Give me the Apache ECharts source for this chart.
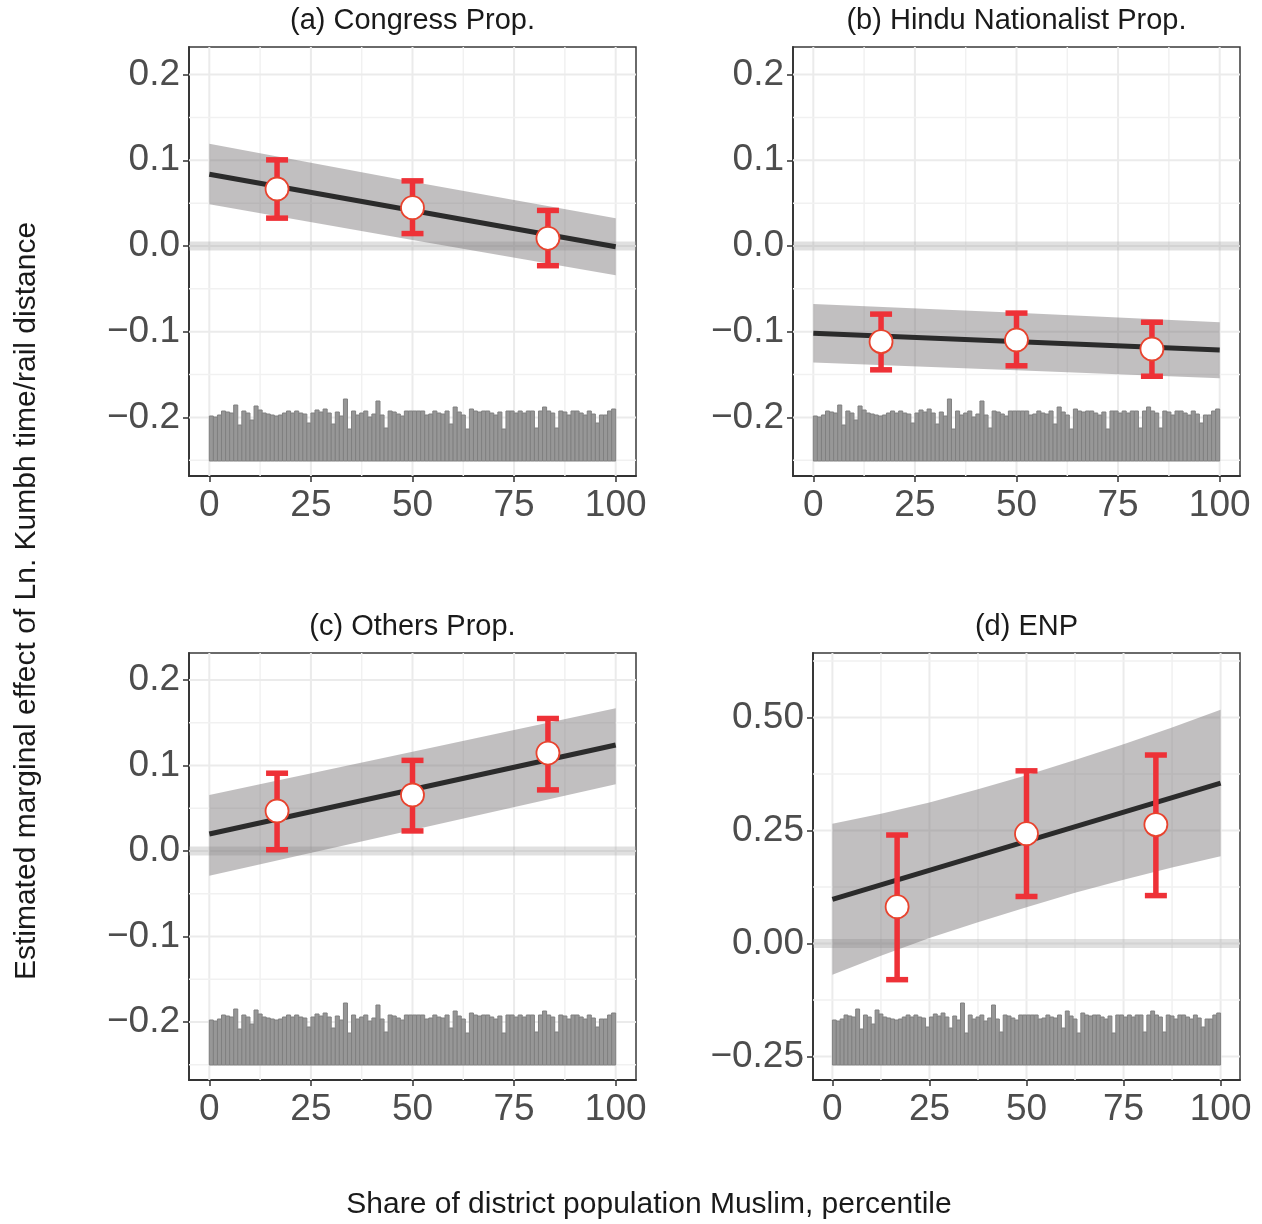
<!DOCTYPE html>
<html><head><meta charset="utf-8">
<script src="https://cdn.jsdelivr.net/npm/echarts@6/dist/echarts.min.js"></script>
<style>html,body{margin:0;padding:0;background:#fff}#c{width:1262px;height:1224px}</style>
</head><body><div id="c"></div>
<script>
// ---- axis ticks ----
const pctTicks = [0, 25, 50, 75, 100];
const pctMinor = [12.5, 37.5, 62.5, 87.5];
const propTicks = [-0.2, -0.1, 0, 0.1, 0.2];
const propMinor = [-0.25, -0.15, -0.05, 0.05, 0.15];
const enpTicks = [-0.25, 0, 0.25, 0.5];
const enpMinor = [-0.125, 0.125, 0.375, 0.625];

// ---- x positions ----
const pointX = [16.67, 50, 83.33];
const lineX = [0, 100];
const bandX3 = [0, 50, 100];
const bandX9 = [0, 12.5, 25, 37.5, 50, 62.5, 75, 87.5, 100];

// ---- (a) Congress Prop. ----
const congressLine = [0.0837, -0.0008];
const congressBandHi = [0.1194, 0.075, 0.0323];
const congressBandLo = [0.0487, 0.007, -0.0342];
const congressEst = [0.0665, 0.0447, 0.009];
const congressHi = [0.1005, 0.0760, 0.0415];
const congressLo = [0.0325, 0.0145, -0.0230];

// ---- (b) Hindu Nationalist Prop. ----
const hinduLine = [-0.1019, -0.1214];
const hinduBandHi = [-0.0677, -0.078, -0.089];
const hinduBandLo = [-0.136, -0.145, -0.1544];
const hinduEst = [-0.1116, -0.1097, -0.1202];
const hinduHi = [-0.0795, -0.0783, -0.0890];
const hinduLo = [-0.1445, -0.1398, -0.1520];

// ---- (c) Others Prop. ----
const othersLine = [0.0199, 0.124];
const othersBandHi = [0.0655, 0.116, 0.167];
const othersBandLo = [-0.029, 0.0245, 0.078];
const othersEst = [0.0468, 0.0655, 0.1146];
const othersHi = [0.0910, 0.1060, 0.1550];
const othersLo = [0.0015, 0.0235, 0.0715];

// ---- (d) ENP ----
const enpLine = [0.0978, 0.355];
const enpBandHi = [0.265, 0.287, 0.312, 0.341, 0.372, 0.406, 0.441, 0.478, 0.517];
const enpBandLo = [-0.069, -0.027, 0.012, 0.047, 0.080, 0.112, 0.141, 0.168, 0.193];
const enpEst = [0.0814, 0.243, 0.263];
const enpHi = [0.240, 0.382, 0.417];
const enpLo = [-0.080, 0.104, 0.106];

// ---- histogram of percentiles (100 one-unit bins) ----
const histCounts = [
  45, 44, 46, 50, 49, 48, 56, 36, 50, 48, 41, 55, 51, 48, 47, 46, 45, 46, 48, 50, 48, 50, 48, 47, 38,
  48, 51, 49, 52, 48, 37, 49, 45, 62, 32, 50, 46, 48, 50, 44, 47, 60, 46, 33, 50, 49, 47, 45, 50, 50,
  50, 50, 50, 46, 47, 50, 48, 47, 50, 37, 54, 49, 46, 32, 52, 50, 49, 50, 50, 48, 46, 49, 32, 50, 50,
  48, 50, 48, 50, 50, 33, 50, 54, 50, 48, 33, 50, 49, 46, 50, 50, 48, 46, 50, 47, 38, 46, 46, 50, 52
];

const FONT = "'Liberation Sans', Arial, Helvetica, sans-serif";
const panels = [
  {title: '(a) Congress Prop.', grid: {left: 189, top: 47, width: 447, height: 429}, yMin: -0.2684, yMax: 0.2322,
   ticks: propTicks, minor: propMinor, dec: 1, histMax: 414,
   line: congressLine, bandX: bandX3, bHi: congressBandHi, bLo: congressBandLo, est: congressEst, eHi: congressHi, eLo: congressLo},
  {title: '(b) Hindu Nationalist Prop.', grid: {left: 793, top: 47, width: 447, height: 429}, yMin: -0.2684, yMax: 0.2322,
   ticks: propTicks, minor: propMinor, dec: 1, histMax: 414,
   line: hinduLine, bandX: bandX3, bHi: hinduBandHi, bLo: hinduBandLo, est: hinduEst, eHi: hinduHi, eLo: hinduLo},
  {title: '(c) Others Prop.', grid: {left: 189, top: 653, width: 447, height: 427}, yMin: -0.2678, yMax: 0.2316,
   ticks: propTicks, minor: propMinor, dec: 1, histMax: 412,
   line: othersLine, bandX: bandX3, bHi: othersBandHi, bLo: othersBandLo, est: othersEst, eHi: othersHi, eLo: othersLo},
  {title: '(d) ENP', grid: {left: 813, top: 653, width: 427, height: 427}, yMin: -0.302, yMax: 0.6427,
   ticks: enpTicks, minor: enpMinor, dec: 2, histMax: 412,
   line: enpLine, bandX: bandX9, bHi: enpBandHi, bLo: enpBandLo, est: enpEst, eHi: enpHi, eLo: enpLo}
];

const grids = [], xAxes = [], yAxes = [], series = [], graphics = [];
const hiddenY = [];

function gridRender(params, api) {
  const cs = params.coordSys;
  const kind = api.value(2);
  let shape;
  if (kind < 2) {
    const px = api.coord([api.value(0), 0])[0];
    shape = {x1: px, y1: cs.y, x2: px, y2: cs.y + cs.height};
  } else {
    const py = api.coord([0, api.value(1)])[1];
    shape = {x1: cs.x, y1: py, x2: cs.x + cs.width, y2: py};
  }
  const major = kind % 2 === 0;
  return {type: 'line', shape, style: {stroke: major ? '#ebebeb' : '#f1f1f1', lineWidth: major ? 2 : 1.5}};
}
function histRender(params, api) {
  const i = api.value(0), c = api.value(1);
  const p0 = api.coord([i, 0]), p1 = api.coord([i + 1, c]);
  return {type: 'rect', shape: {x: p0[0], y: p1[1], width: p1[0] - p0[0], height: p0[1] - p1[1]},
          style: {fill: '#979797', stroke: '#808080', lineWidth: 1}};
}
function makeBand(xs, hi, lo) {
  return function (params, api) {
    const pts = [];
    for (let i = 0; i < xs.length; i++) pts.push(api.coord([xs[i], hi[i]]));
    for (let i = xs.length - 1; i >= 0; i--) pts.push(api.coord([xs[i], lo[i]]));
    return {type: 'polygon', shape: {points: pts}, style: {fill: 'rgba(118,114,116,0.45)'}};
  };
}
function errRender(params, api) {
  const x = api.value(0);
  const pl = api.coord([x, api.value(1)]);
  const ph = api.coord([x, api.value(2)]);
  const hw = 11, st = {stroke: '#ee3137', lineWidth: 5.5};
  return {type: 'group', children: [
    {type: 'line', shape: {x1: pl[0], y1: pl[1], x2: ph[0], y2: ph[1]}, style: st},
    {type: 'line', shape: {x1: ph[0] - hw, y1: ph[1], x2: ph[0] + hw, y2: ph[1]}, style: st},
    {type: 'line', shape: {x1: pl[0] - hw, y1: pl[1], x2: pl[0] + hw, y2: pl[1]}, style: st}
  ]};
}

panels.forEach((p, k) => {
  grids.push(Object.assign({show: true, borderColor: '#3a3a3a', borderWidth: 1.5, backgroundColor: '#fff', containLabel: false}, p.grid));
  xAxes.push({gridIndex: k, type: 'value', min: -5, max: 105,
    axisLine: {show: true, onZero: false, lineStyle: {color: '#333', width: 1.8}},
    axisTick: {show: true, customValues: pctTicks, length: 6, lineStyle: {color: '#333', width: 1.5}},
    axisLabel: {customValues: pctTicks, fontSize: 37, color: '#4d4d4d', margin: 11, fontFamily: FONT},
    splitLine: {show: false}});
  const dec = p.dec;
  yAxes.push({gridIndex: k, type: 'value', min: p.yMin, max: p.yMax,
    axisLine: {show: true, onZero: false, lineStyle: {color: '#333', width: 1.8}},
    axisTick: {show: true, customValues: p.ticks, length: 6, lineStyle: {color: '#333', width: 1.5}},
    axisLabel: {customValues: p.ticks, fontSize: 37, color: '#4d4d4d', margin: 9, fontFamily: FONT,
      formatter: v => Number(v).toFixed(dec).replace('-', '\u2212').replace(/^\u22120\.0+$/, m => m.slice(1))},
    splitLine: {show: false}});
  hiddenY.push({gridIndex: k, type: 'value', min: -15, max: p.histMax, show: false});

  const gl = [];
  pctTicks.forEach(v => gl.push([v, 0, 0]));
  pctMinor.forEach(v => gl.push([v, 0, 1]));
  p.ticks.forEach(v => gl.push([0, v, 2]));
  p.minor.forEach(v => gl.push([0, v, 3]));
  series.push({type: 'custom', xAxisIndex: k, yAxisIndex: k, z: 1, silent: true, renderItem: gridRender,
    data: gl, encode: {x: 0, y: 1}});
  series.push({type: 'custom', xAxisIndex: k, yAxisIndex: 4 + k, z: 2, silent: true, renderItem: histRender,
    data: histCounts.map((c, i) => [i, c]), encode: {x: 0, y: 1}});
  series.push({type: 'line', xAxisIndex: k, yAxisIndex: k, z: 3, silent: true, symbol: 'none',
    lineStyle: {color: 'rgba(165,165,165,0.35)', width: 9}, data: [[-5, 0], [105, 0]]});
  series.push({type: 'custom', xAxisIndex: k, yAxisIndex: k, z: 4, silent: true,
    renderItem: makeBand(p.bandX, p.bHi, p.bLo), data: [[50, 0]], encode: {x: 0, y: 1}});
  series.push({type: 'line', xAxisIndex: k, yAxisIndex: k, z: 5, silent: true, symbol: 'none',
    lineStyle: {color: '#2b2b2b', width: 5}, data: lineX.map((x, i) => [x, p.line[i]])});
  series.push({type: 'custom', xAxisIndex: k, yAxisIndex: k, z: 6, silent: true, renderItem: errRender,
    data: pointX.map((x, i) => [x, p.eLo[i], p.eHi[i]]), encode: {x: 0, y: [1, 2]}});
  series.push({type: 'scatter', xAxisIndex: k, yAxisIndex: k, z: 7, silent: true, symbol: 'circle', symbolSize: 23,
    itemStyle: {color: '#ffffff', borderColor: '#e8432e', borderWidth: 1.8, opacity: 1},
    data: pointX.map((x, i) => [x, p.est[i]])});

  graphics.push({type: 'text', x: p.grid.left + p.grid.width / 2, y: p.grid.top - 26,
    style: {text: p.title, font: '29px ' + FONT, fill: '#1a1a1a', align: 'center', verticalAlign: 'middle',
            textAlign: 'center', textVerticalAlign: 'middle'}});
});

graphics.push({type: 'text', x: 27, y: 601, rotation: Math.PI / 2,
  style: {text: 'Estimated marginal effect of Ln. Kumbh time/rail distance', font: '30px ' + FONT, fill: '#1a1a1a',
          align: 'center', verticalAlign: 'middle', textAlign: 'center', textVerticalAlign: 'middle'}});
graphics.push({type: 'text', x: 649, y: 1205,
  style: {text: 'Share of district population Muslim, percentile', font: '30px ' + FONT, fill: '#1a1a1a',
          align: 'center', verticalAlign: 'middle', textAlign: 'center', textVerticalAlign: 'middle'}});

const chart = echarts.init(document.getElementById('c'), null, {renderer: 'canvas'});
chart.setOption({
  animation: false,
  backgroundColor: '#ffffff',
  grid: grids,
  xAxis: xAxes,
  yAxis: yAxes.concat(hiddenY),
  series: series,
  graphic: graphics
});
</script></body></html>
